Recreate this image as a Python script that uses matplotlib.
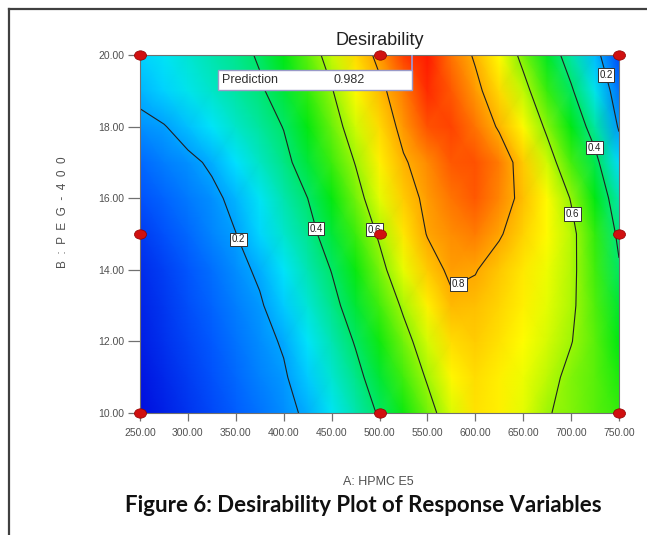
import numpy as np
import matplotlib
matplotlib.use("Agg")
import matplotlib.pyplot as plt
from matplotlib.colors import LinearSegmentedColormap
from matplotlib.patches import Rectangle
from matplotlib.lines import Line2D
from matplotlib.path import Path
from matplotlib.transforms import Affine2D
from matplotlib import font_manager

# ---------------- data ----------------
hpmc = [250, 275, 300, 325, 350, 375, 400, 425, 450, 475, 500,
        525, 550, 575, 600, 625, 650, 675, 700, 725, 750]
peg = [10, 11, 12, 13, 14, 15, 16, 17, 18, 19, 20]

# desirability, one row per PEG-400 level (10 -> 20)
d10 = [0.02, 0.046, 0.073, 0.099, 0.126, 0.152, 0.179, 0.213, 0.278, 0.343, 0.41,
       0.489, 0.568, 0.65, 0.72, 0.70, 0.66, 0.605, 0.58, 0.55, 0.52]
d11 = [0.03, 0.057, 0.084, 0.111, 0.138, 0.165, 0.191, 0.244, 0.309, 0.374, 0.448,
       0.529, 0.609, 0.69, 0.73, 0.70, 0.665, 0.625, 0.58, 0.55, 0.50]
d12 = [0.04, 0.067, 0.094, 0.122, 0.149, 0.176, 0.208, 0.274, 0.339, 0.407, 0.489,
       0.57, 0.647, 0.73, 0.75, 0.72, 0.68, 0.645, 0.603, 0.55, 0.48]
d13 = [0.05, 0.078, 0.106, 0.135, 0.163, 0.191, 0.244, 0.308, 0.372, 0.447, 0.53,
       0.613, 0.697, 0.78, 0.77, 0.74, 0.70, 0.66, 0.615, 0.54, 0.45]
d14 = [0.06, 0.089, 0.118, 0.148, 0.177, 0.213, 0.276, 0.339, 0.403, 0.488, 0.573,
       0.663, 0.756, 0.82, 0.805, 0.758, 0.712, 0.667, 0.621, 0.53, 0.41]
d15 = [0.08, 0.11, 0.139, 0.169, 0.199, 0.255, 0.313, 0.371, 0.442, 0.526, 0.612,
       0.714, 0.805, 0.84, 0.86, 0.81, 0.746, 0.685, 0.624, 0.517, 0.38]
d16 = [0.11, 0.134, 0.159, 0.183, 0.219, 0.28, 0.34, 0.40, 0.483, 0.567, 0.657,
       0.752, 0.824, 0.871, 0.90, 0.85, 0.772, 0.684, 0.595, 0.478, 0.34]
d17 = [0.14, 0.161, 0.183, 0.211, 0.266, 0.321, 0.376, 0.444, 0.524, 0.604, 0.696,
       0.789, 0.847, 0.90, 0.91, 0.86, 0.755, 0.641, 0.533, 0.429, 0.26]
d18 = [0.18, 0.196, 0.232, 0.275, 0.317, 0.359, 0.403, 0.482, 0.561, 0.644, 0.733,
       0.83, 0.91, 0.925, 0.87, 0.788, 0.686, 0.583, 0.477, 0.354, 0.19]
d19 = [0.22, 0.253, 0.287, 0.32, 0.353, 0.387, 0.445, 0.519, 0.594, 0.684, 0.775,
       0.86, 0.95, 0.90, 0.827, 0.734, 0.631, 0.523, 0.413, 0.286, 0.15]
d20 = [0.25, 0.28, 0.31, 0.34, 0.37, 0.41, 0.48, 0.554, 0.636, 0.732, 0.828,
       0.93, 0.97, 0.87, 0.787, 0.68, 0.574, 0.464, 0.35, 0.229, 0.10]

levels = [0.2, 0.4, 0.6, 0.8]
design_a = [250, 250, 250, 500, 500, 500, 750, 750, 750]
design_b = [10, 15, 20, 10, 15, 20, 10, 15, 20]
pred_label = "Prediction"
pred_value = 0.982

xticks = [250, 300, 350, 400, 450, 500, 550, 600, 650, 700, 750]
yticks = [10, 12, 14, 16, 18, 20]

# ---------------- figure ----------------
avail = {f.name for f in font_manager.fontManager.ttflist}
narrow = 'Liberation Sans Narrow' if 'Liberation Sans Narrow' in avail else 'Liberation Sans'

W, H = 647, 535
fig = plt.figure(figsize=(W / 100, H / 100), dpi=100)
fig.patch.set_facecolor('white')

# page frame
fig.add_artist(Line2D([9 / W, 1.0], [1 - 9 / H, 1 - 9 / H], color='#404040', lw=1.6))
fig.add_artist(Line2D([9 / W, 9 / W], [0, 1 - 9 / H], color='#404040', lw=1.6))

L, R, T, B = 140, 619, 55, 413
ax = fig.add_axes([L / W, 1 - B / H, (R - L) / W, (B - T) / H])

Z = np.array([d10, d11, d12, d13, d14, d15, d16, d17, d18, d19, d20])
X, Y = np.meshgrid(hpmc, peg)

cmap = LinearSegmentedColormap.from_list(
    'de', [(0.0, '#0000d8'), (0.12, '#0058ff'), (0.27, '#00e4ff'), (0.48, '#00e810'),
           (0.68, '#ffff00'), (0.84, '#ff9000'), (1.0, '#ff0000')])
ax.pcolormesh(X, Y, Z, shading='gouraud', cmap=cmap, vmin=0.0, vmax=1.0)

cs = ax.contour(X, Y, Z, levels=levels, colors='#202020', linewidths=0.8)
label_pos = [(357, 14.9), (434, 15.15), (498, 15.15), (581, 13.67),
             (705, 15.57), (724, 17.4), (737, 19.45)]
texts = ax.clabel(cs, manual=label_pos, fmt='%.1f', fontsize=7, inline=False)
for t in texts:
    t.set_rotation(0)
    t.set_fontfamily(narrow)
    t.set_color('#202020')
    t.set_bbox(dict(facecolor='white', edgecolor='#303030', pad=1.2, lw=0.7))

ellipse = Path.unit_circle().transformed(Affine2D().scale(1.0, 0.78))
ax.scatter(design_a, design_b, s=75, marker=ellipse, color='#d01010', edgecolor='#900000',
           linewidths=0.5, zorder=5, clip_on=False)

ax.set_xlim(250, 750)
ax.set_ylim(10, 20)
ax.set_xticks(xticks)
ax.set_yticks(yticks)
ax.set_xticklabels([f"{v:.2f}" for v in xticks], fontfamily=narrow, fontsize=7.5, color='#505050')
ax.set_yticklabels([f"{v:.2f}" for v in yticks], fontfamily=narrow, fontsize=7.5, color='#505050')
ax.tick_params(axis='y', direction='out', length=8.5, width=0.9, color='#707070', pad=3)
ax.tick_params(axis='x', direction='out', length=6, width=0.9, color='#707070', pad=5)
for s in ax.spines.values():
    s.set_color('#707070')
    s.set_linewidth(0.8)

ax.set_title('Desirability', fontfamily='Liberation Sans', fontsize=13, color='#202020', pad=7.5)

# prediction flag
x0, x1 = (218 - L) / (R - L), (412 - L) / (R - L)
y0, y1 = (B - 90) / (B - T), (B - 70) / (B - T)
ax.add_patch(Rectangle((x0, y0), x1 - x0, y1 - y0, transform=ax.transAxes,
                       facecolor='white', edgecolor='#9a9ac8', lw=1.0, zorder=6))
ax.add_artist(Line2D([x1, x1], [y1, 1.0], transform=ax.transAxes, color='#9a9ae0', lw=1.2, zorder=6))
ax.text((222 - L) / (R - L), (y0 + y1) / 2, pred_label, transform=ax.transAxes,
        fontfamily='Liberation Sans', fontsize=9, color='#303030', va='center', zorder=7)
ax.text((333 - L) / (R - L), (y0 + y1) / 2, f"{pred_value:.3f}", transform=ax.transAxes,
        fontfamily='Liberation Sans', fontsize=9, color='#303030', va='center', zorder=7)

# axis titles
fig.text(63 / W, 1 - 212 / H, 'B  :  P  E  G  -  4  0  0', rotation=90, ha='center', va='center',
         fontfamily='Liberation Sans', fontsize=8.5, color='#505050')
fig.text(378 / W, 1 - 482 / H, 'A: HPMC E5', ha='center', va='center',
         fontfamily='Liberation Sans', fontsize=9, color='#505050')
fig.text(363 / W, 1 - 506 / H, 'Figure 6: Desirability Plot of Response Variables',
         ha='center', va='center', fontfamily='Lato', fontweight='bold', fontsize=16,
         color='#101010')

fig.savefig('out.png', dpi=100, facecolor='white')
